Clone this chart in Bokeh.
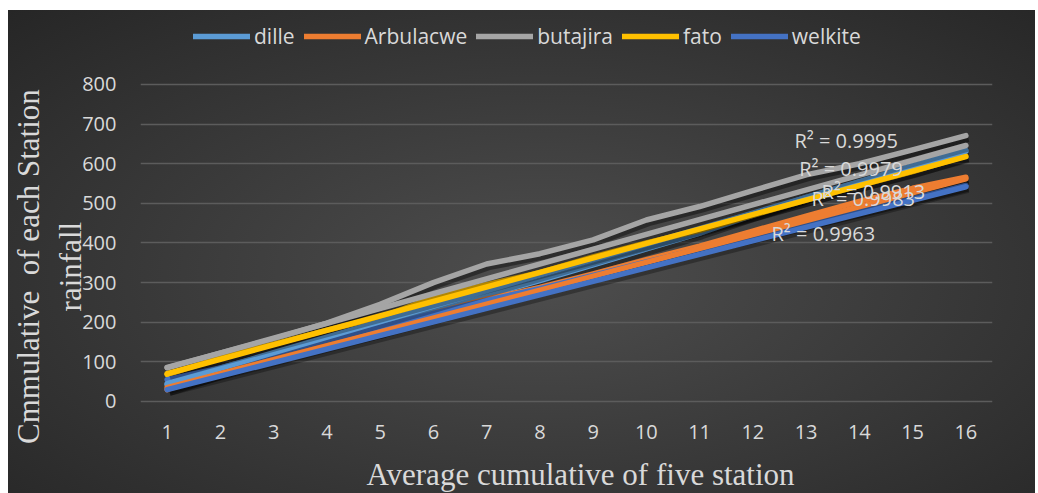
import numpy as np
from bokeh.plotting import figure
from bokeh.models import (ColumnDataSource, FactorRange, Range1d, Legend, LegendItem,
                          Label, FixedTicker)
from bokeh.transform import dodge
from bokeh.embed import file_html
from bokeh.resources import INLINE

# ---------------- data ----------------
categories = ["1", "2", "3", "4", "5", "6", "7", "8", "9", "10", "11", "12", "13", "14", "15", "16"]

dille     = [42, 82, 120, 158, 195, 232, 268, 305, 345, 385, 425, 470, 515, 555, 595, 634]
arbulacwe = [30, 72, 112, 145, 175, 222, 258, 288, 322, 358, 392, 430, 468, 505, 538, 566]
butajira  = [86, 122, 158, 198, 245, 300, 347, 373, 408, 458, 492, 532, 572, 600, 635, 671]
fato      = [68, 110, 145, 180, 212, 262, 295, 325, 365, 400, 432, 470, 508, 545, 580, 620]
welkite   = [55, 85, 120, 155, 188, 222, 255, 285, 318, 352, 385, 415, 448, 480, 512, 545]

series_names = ["dille", "Arbulacwe", "butajira", "fato", "welkite"]
series_values = [dille, arbulacwe, butajira, fato, welkite]

# linear trendlines: value at first and last category
trend_start = [45, 35, 85, 70, 30]
trend_end   = [632, 562, 646, 618, 542]

r2_texts = ["R\u00b2 = 0.9979", "R\u00b2 = 0.9983", "R\u00b2 = 0.9995", "R\u00b2 = 0.9913", "R\u00b2 = 0.9963"]
y_ticks = [0, 100, 200, 300, 400, 500, 600, 700, 800]

# ---------------- styles / layout ----------------
colors = ["#5B9BD5", "#ED7D31", "#A5A5A5", "#FFC000", "#4472C4"]
r2_pos = [(12.37, 588), (12.60, 512), (12.28, 659), (12.79, 530), (11.85, 424)]
txt_col = "#d9d9d9"
pad = "\u00a0\u00a0\u00a0"  # trailing hard spaces nudge the centred y title toward the bottom

p = figure(width=1027, height=483,
           x_range=FactorRange(*categories, range_padding=0),
           y_range=Range1d(-232.2, 971.6),
           output_backend="svg", toolbar_location=None,
           min_border_left=127, min_border_right=43,
           min_border_top=6, min_border_bottom=0,
           margin=(10, 3, 0, 8))
p.background_fill_alpha = 0
p.border_fill_alpha = 0
p.outline_line_color = None
p.styles = {"background": "radial-gradient(ellipse at 52% 55%, #4e4e4e 0%, #3c3c3c 45%, #262626 100%)"}

p.xgrid.grid_line_color = None
p.ygrid.grid_line_color = "#5c5c5c"
p.ygrid.grid_line_width = 1.3
p.yaxis.ticker = FixedTicker(ticks=y_ticks)
p.xaxis.fixed_location = 0

for ax in (p.xaxis[0], p.yaxis[0]):
    ax.axis_line_color = None
    ax.major_tick_line_color = None
    ax.minor_tick_line_color = None
    ax.major_label_text_color = txt_col
    ax.major_label_text_font = "Open Sans"
    ax.major_label_text_font_size = "20px"
p.yaxis.major_label_standoff = 18
p.xaxis.major_label_standoff = 18

p.yaxis.axis_label = "Cmmulative \u00a0of each Station" + pad + "\nrainfall" + pad
p.yaxis.axis_label_text_font = "Liberation Serif"
p.yaxis.axis_label_text_font_style = "normal"
p.yaxis.axis_label_text_font_size = "31px"
p.yaxis.axis_label_text_color = txt_col
p.yaxis.axis_label_standoff = -9

# shadows
for vals in series_values:
    src = ColumnDataSource(dict(x=categories, y=vals))
    p.line(x=dodge("x", 0.05, range=p.x_range), y=dodge("y", -8), source=src,
           line_color="black", line_alpha=0.4, line_width=6, line_join="round")

data_renderers = []
for name, vals, col in zip(series_names, series_values, colors):
    src = ColumnDataSource(dict(x=categories, y=vals))
    r = p.line(x="x", y="y", source=src, line_color=col, line_width=5.5,
               line_join="round", line_cap="round")
    data_renderers.append(r)

for s, e, col in zip(trend_start, trend_end, colors):
    src = ColumnDataSource(dict(x=[categories[0], categories[-1]], y=[s, e]))
    p.line(x=dodge("x", 0.05, range=p.x_range), y=dodge("y", -8), source=src,
           line_color="black", line_alpha=0.3, line_width=6)
    p.line(x="x", y="y", source=src, line_color=col, line_width=5.5, line_cap="round")

for t, (lx, ly) in zip(r2_texts, r2_pos):
    p.add_layout(Label(x=lx, y=ly, text=t, text_align="left", text_baseline="middle",
                       text_font="Open Sans", text_font_size="20px", text_color=txt_col))

legend = Legend(items=[LegendItem(label=n, renderers=[r]) for n, r in zip(series_names, data_renderers)],
                orientation="horizontal", location=(53, 443),
                glyph_width=57, glyph_height=20, label_height=20, label_standoff=4,
                spacing=9, padding=0, margin=0,
                background_fill_alpha=0, border_line_color=None,
                label_text_color=txt_col, label_text_font="Open Sans", label_text_font_size="21px")
p.add_layout(legend)

p.add_layout(Label(x=440, y=19, x_units="screen", y_units="screen",
                   text="Average cumulative of five station",
                   text_align="center", text_baseline="alphabetic",
                   text_font="Liberation Serif", text_font_size="31px", text_color=txt_col))

open("out.html", "w").write(file_html(p, INLINE))
